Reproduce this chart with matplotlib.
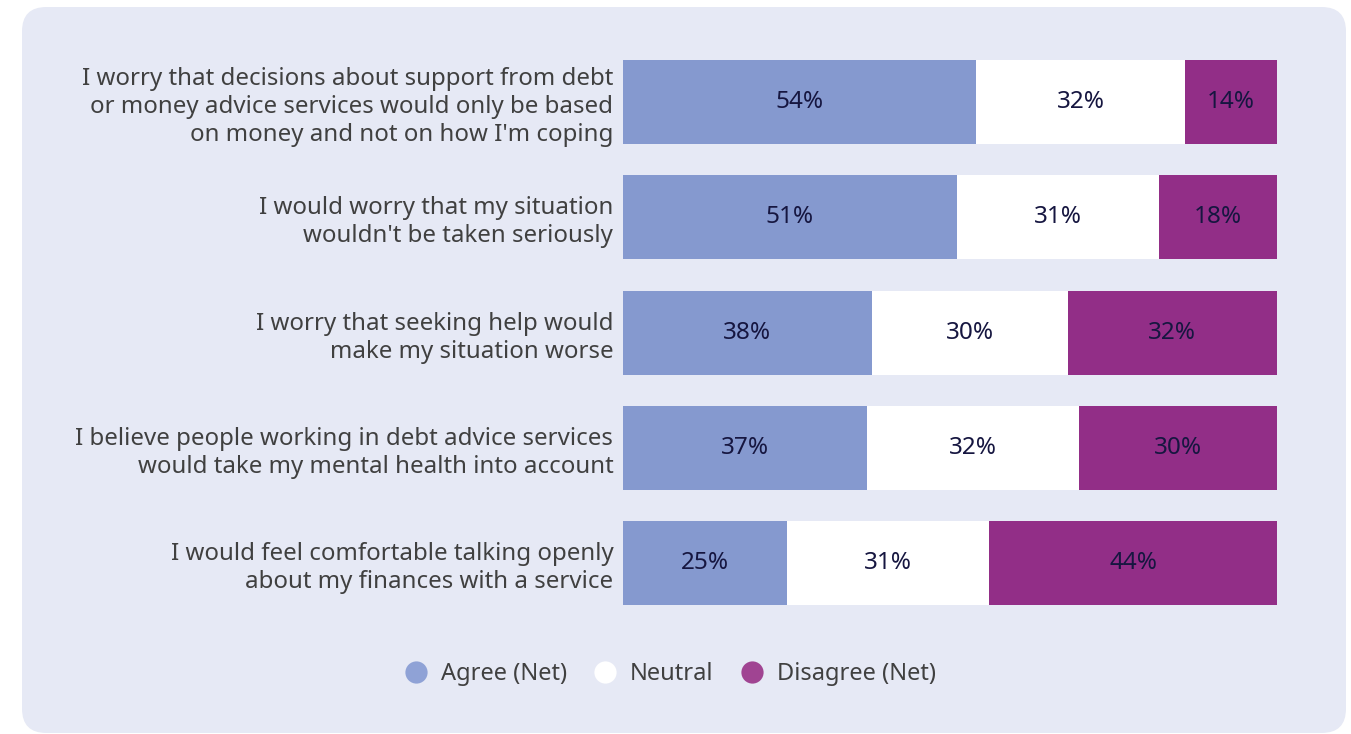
import numpy as np
import matplotlib.pyplot as plt
from matplotlib.patches import FancyBboxPatch
from matplotlib.lines import Line2D

plt.rcParams['font.family'] = ['Noto Sans', 'DejaVu Sans']

statements = [
    "I worry that decisions about support from debt\nor money advice services would only be based\non money and not on how I'm coping",
    "I would worry that my situation\nwouldn't be taken seriously",
    "I worry that seeking help would\nmake my situation worse",
    "I believe people working in debt advice services\nwould take my mental health into account",
    "I would feel comfortable talking openly\nabout my finances with a service",
]
agree = [54, 51, 38, 37, 25]
neutral = [32, 31, 30, 32, 31]
disagree = [14, 18, 32, 30, 44]

series_names = ["Agree (Net)", "Neutral", "Disagree (Net)"]
bar_colors = ["#8599CF", "#FFFFFF", "#922E87"]
legend_colors = ["#8FA2D6", "#FFFFFF", "#A04492"]
panel_color = "#E6E9F5"
label_color = "#404040"
value_color = "#161640"

fig = plt.figure(figsize=(13.51, 7.34), dpi=100)
fig.patch.set_facecolor("white")

# rounded background panel
panel = FancyBboxPatch((22 / 1351, 1 - 733 / 734), (1346 - 22) / 1351, (733 - 7) / 734,
                       boxstyle="round,pad=0,rounding_size=0.018",
                       transform=fig.transFigure, facecolor=panel_color,
                       edgecolor="none", zorder=-10, mutation_aspect=1351 / 734)
fig.patches.append(panel)

ax = fig.add_axes([623 / 1351, 1 - 620.9 / 734, (1277 - 623) / 1351, (620.9 - 44.3) / 734])
ax.set_facecolor("none")

data = np.array([agree, neutral, disagree], dtype=float)
shares = data / data.sum(axis=0) * 100
y = np.arange(len(statements))
left = np.zeros(len(statements))
for vals, pct, col in zip(data, shares, bar_colors):
    ax.barh(y, pct, left=left, height=0.73, color=col, edgecolor="none")
    for yi, l, w, v in zip(y, left, pct, vals):
        ax.text(l + w / 2, yi, f"{v:.0f}%", ha="center", va="center",
                fontsize=17.5, color=value_color)
    left += pct

ax.set_xlim(0, 100)
ax.set_ylim(len(statements) - 0.5, -0.5)
ax.set_yticks(y)
ax.set_yticklabels(statements, fontsize=17.3, color=label_color, linespacing=1.22)
ax.tick_params(axis="y", length=0, pad=7)
ax.set_xticks([])
for s in ax.spines.values():
    s.set_visible(False)

handles = [Line2D([], [], marker="o", linestyle="none", markersize=16,
                  markerfacecolor=c, markeredgecolor="none") for c in legend_colors]
leg = fig.legend(handles, series_names, loc="center", bbox_to_anchor=(670 / 1351, 1 - 674 / 734),
                 ncol=3, frameon=False, fontsize=17, handletextpad=0.56, columnspacing=1.1,
                 handlelength=1.0)
for t in leg.get_texts():
    t.set_color(label_color)

fig.savefig("out.png", dpi=100, facecolor=fig.get_facecolor())
